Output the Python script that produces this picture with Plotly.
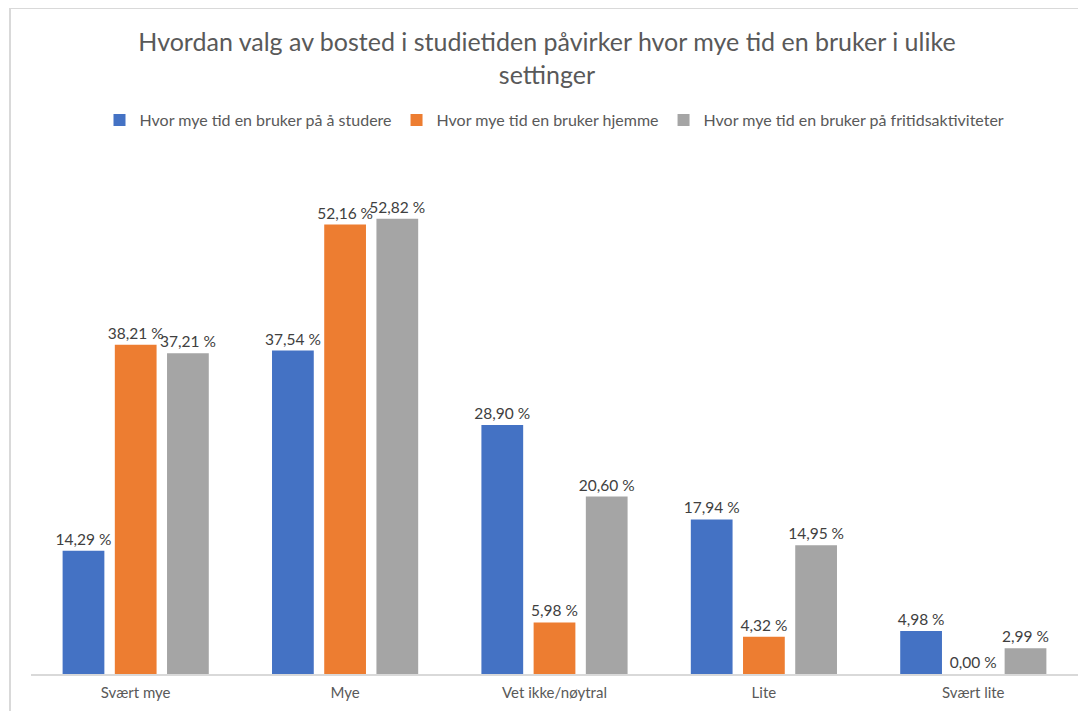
import plotly.graph_objects as go

categories = ["Svært mye", "Mye", "Vet ikke/nøytral", "Lite", "Svært lite"]
series_names = [
    "Hvor mye tid en bruker på å studere",
    "Hvor mye tid en bruker hjemme",
    "Hvor mye tid en bruker på fritidsaktiviteter",
]
studere = [14.29, 37.54, 28.90, 17.94, 4.98]
hjemme = [38.21, 52.16, 5.98, 4.32, 0.00]
fritid = [37.21, 52.82, 20.60, 14.95, 2.99]
colors = ["#4472C4", "#ED7D31", "#A5A5A5"]

OFF = 8  # default body margin in the page
W, H = 1086 - OFF, 711 - OFF
ml, mr, mt, mb = 31 - OFF, 8, 157 - OFF, 37
pw, ph = W - ml - mr, H - mt - mb

def fmt(v):
    return f"{v:.2f}".replace(".", ",") + " %"

fig = go.Figure()
for name, vals, c in zip(series_names, [studere, hjemme, fritid], colors):
    fig.add_trace(go.Bar(
        x=categories, y=vals, name=name, marker=dict(color=c, line=dict(width=0)),
        text=[fmt(v) for v in vals], textposition="outside", cliponaxis=False,
        constraintext="none",
        textfont=dict(family="Lato", size=15.5, color="#404040"),
    ))

def px_x(x):
    return (x - OFF - ml) / pw

def px_y(y):
    return 1 - (y - OFF - mt) / ph

fig.update_layout(
    width=W, height=H,
    margin=dict(l=ml, r=mr, t=mt, b=mb),
    paper_bgcolor="white", plot_bgcolor="white",
    barmode="group", bargap=0.252, bargroupgap=0.2,
    title=dict(
        text="Hvordan valg av bosted i studietiden påvirker hvor mye tid en bruker i ulike<br>settinger",
        x=0.5, xanchor="center", y=1 - 43 / H, yanchor="top", yref="container",
        font=dict(family="Lato", size=25, color="#595959"),
    ),
    legend=dict(
        orientation="h", x=0.5, xanchor="center", y=px_y(120), yanchor="middle",
        font=dict(family="Lato", size=16, color="#595959"),
        itemclick=False, traceorder="normal",
    ),
    xaxis=dict(
        showline=True, linecolor="#D9D9D9", linewidth=1.5, ticks="",
        tickfont=dict(family="Lato", size=15, color="#595959"),
        ticklabelstandoff=4,
        showgrid=False,
    ),
    yaxis=dict(range=[0, 60], visible=False, showgrid=False),
    shapes=[dict(
        type="rect", xref="paper", yref="paper",
        x0=px_x(10), x1=px_x(1100), y0=px_y(730), y1=px_y(8),
        line=dict(color="#D9D9D9", width=2), fillcolor="rgba(0,0,0,0)", layer="above",
    )],
)

fig.write_html("out.html")
